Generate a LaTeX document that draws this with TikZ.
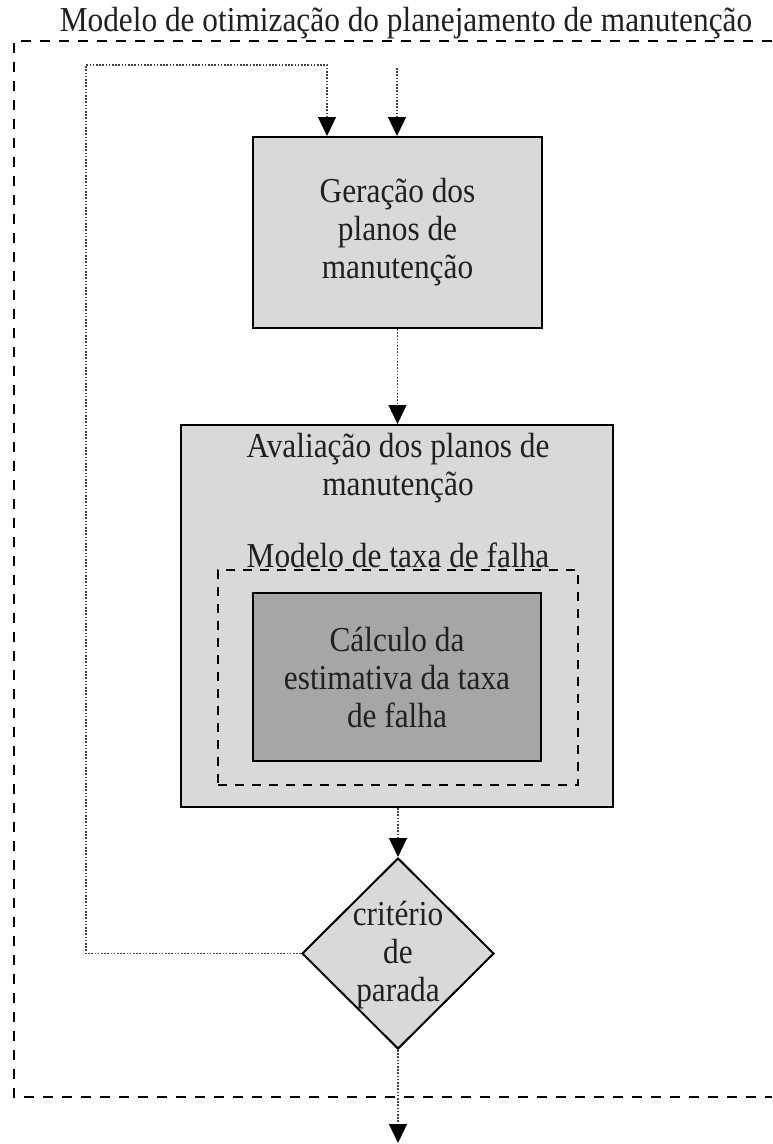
\documentclass[tikz,border=0pt]{standalone}
\usepackage{fontspec}
\setmainfont[FakeStretch=0.895]{Liberation Serif}
\usetikzlibrary{shapes.geometric,arrows.meta}
\definecolor{lightbox}{HTML}{D9D9D9}
\definecolor{darkbox}{HTML}{A6A6A6}
\definecolor{txt}{HTML}{231F20}
\definecolor{dotc}{HTML}{444444}
\begin{document}
\begin{tikzpicture}[x=1pt,y=-1pt,
  every node/.style={font=\fontsize{35}{38}\selectfont, text=txt, inner sep=0pt, align=center},
  procbox/.style={draw=black, line width=2pt, fill=lightbox, rectangle},
  darkproc/.style={draw=black, line width=2pt, fill=darkbox, rectangle},
  decision/.style={draw=black, line width=2pt, fill=lightbox, diamond, aspect=1},
  flow/.style={dotc, line width=1.2pt, dash pattern=on 1.6pt off 1.6pt, -{Triangle[length=19pt,width=18pt,black]}},
  outerdash/.style={line width=2.6pt, dash pattern=on 10pt off 9pt},
  innerdash/.style={line width=2pt, dash pattern=on 9pt off 8pt}
]
\useasboundingbox (0,0) rectangle (772,1144);

% outer frame
\coordinate (ftr) at (772,41);
\coordinate (ftl) at (14,41);
\coordinate (fbl) at (14,1097);
\coordinate (fbr) at (772,1097);
\draw[outerdash] (ftr) -- (ftl) -- (fbl) -- (fbr);
\node[anchor=base] (title) at (406,31) {Modelo de otimização do planejamento de manutenção};

% boxes
\node[procbox, minimum width=289pt, minimum height=191pt] (gen) at (397.5,232.5) {Geração dos\\planos de\\manutenção};
\node[procbox, minimum width=432pt, minimum height=382pt] (aval) at (397,616) {};
\node (avaltxt) at (398,468) {Avaliação dos planos de\\manutenção};
\node (modtxt) at (398,555) {Modelo de taxa de falha};
\node[innerdash, draw, rectangle, minimum width=360pt, minimum height=215pt] (modbox) at (398,677.5) {};
\node[darkproc, minimum width=288pt, minimum height=168pt] (calc) at (397,677) {Cálculo da\\estimativa da taxa\\de falha};

% decision
\node[decision, minimum width=192pt, minimum height=191pt] (crit) at (398,953.5) {};
\node (crittxt) at (398,955) {critério\\de\\parada};

% connectors
\coordinate (in) at (397,68);
\coordinate (fbk1) at (86,953.5);
\coordinate (fbk2) at (86,65);
\coordinate (fbk3) at (327,65);
\coordinate (out) at (398,1143);
\draw[flow] (in) -- (in |- gen.north);
\draw[flow] (crit.west) -- (fbk1) -- (fbk2) -- (fbk3) -- (fbk3 |- gen.north);
\draw[flow] (gen.south) -- (aval.north -| gen.south);
\draw[flow] (aval.south -| crit.north) -- (crit.north);
\draw[flow] (crit.south) -- (out);
\end{tikzpicture}
\end{document}
